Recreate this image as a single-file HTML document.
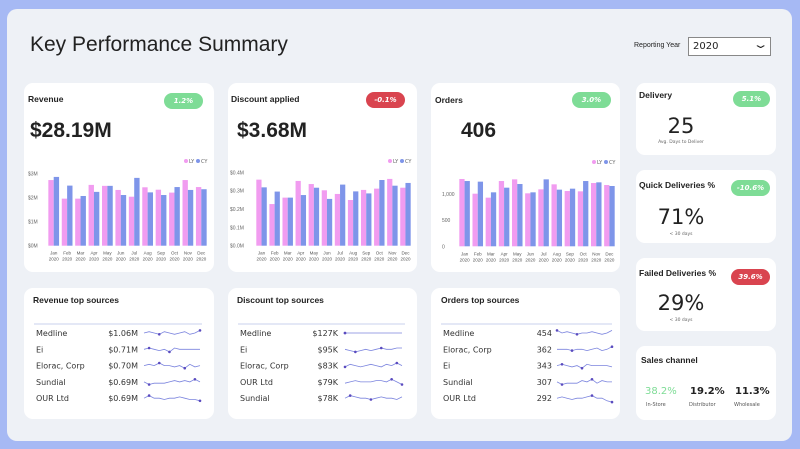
<!DOCTYPE html>
<html><head><meta charset="utf-8">
<style>
*{margin:0;padding:0;box-sizing:border-box}
body{width:800px;height:449px;background:#a6b9f4;font-family:"DejaVu Sans","Liberation Sans",sans-serif;position:relative;overflow:hidden;color:#222}
.panel{position:absolute;left:7px;top:9px;width:785px;height:432px;background:#eef1f6;border-radius:10px}
.card{position:absolute;background:#fff;border-radius:9px}
.t{position:absolute;font-size:8.5px;font-weight:bold;color:#222;white-space:nowrap;font-family:"Liberation Sans",sans-serif}
.badge{position:absolute;height:16px;border-radius:8px;color:#fff;font-size:7px;font-weight:bold;font-style:italic;text-align:center;line-height:16px}
.g{background:#7edc96}.r{background:#d9444f}
.big{position:absolute;font-weight:bold;font-size:21px;white-space:nowrap;font-family:"Liberation Sans",sans-serif}
.kpi{position:absolute;font-size:21px;text-align:center;width:140px}
.sub{position:absolute;font-size:4.5px;color:#666;text-align:center;width:140px}
svg{position:absolute;left:0;top:0}
</style></head><body>
<div class="panel"></div>
<div style="position:absolute;left:30px;top:33px;font-size:21px;font-family:'Liberation Sans',sans-serif;color:#222">Key Performance Summary</div>
<div style="position:absolute;left:634px;top:42px;font-size:7px;font-family:'Liberation Sans',sans-serif">Reporting Year</div>
<div style="position:absolute;left:688px;top:37px;width:83px;height:19px;border:1px solid #888;background:#fff;font-size:10px;line-height:17px;padding-left:4px">2020<span style="position:absolute;right:5px;top:-2px;font-size:11px;transform:scaleX(1.8)">&#8964;</span></div>

<div class="card" style="left:24px;top:83px;width:190px;height:189px"></div>
<div class="card" style="left:228px;top:83px;width:189px;height:189px"></div>
<div class="card" style="left:431px;top:83px;width:189px;height:189px"></div>
<div class="card" style="left:24px;top:288px;width:190px;height:131px"></div>
<div class="card" style="left:228px;top:288px;width:189px;height:131px"></div>
<div class="card" style="left:431px;top:288px;width:189px;height:131px"></div>
<div class="card" style="left:636px;top:83px;width:140px;height:72px"></div>
<div class="card" style="left:636px;top:170px;width:140px;height:73px"></div>
<div class="card" style="left:636px;top:258px;width:140px;height:73px"></div>
<div class="card" style="left:636px;top:346px;width:140px;height:74px"></div>

<div class="t" style="left:28px;top:94px">Revenue</div>
<div class="badge g" style="left:164px;top:93px;width:39px">1.2%</div>
<div class="big" style="left:30px;top:119px">$28.19M</div>
<div class="t" style="left:231px;top:94px">Discount applied</div>
<div class="badge r" style="left:366px;top:92px;width:39px">-0.1%</div>
<div class="big" style="left:237px;top:119px">$3.68M</div>
<div class="t" style="left:435px;top:95px">Orders</div>
<div class="badge g" style="left:572px;top:92px;width:39px">3.0%</div>
<div class="big" style="left:461px;top:119px">406</div>

<div class="t" style="left:33px;top:295px">Revenue top sources</div>
<div class="t" style="left:237px;top:295px">Discount top sources</div>
<div class="t" style="left:441px;top:295px">Orders top sources</div>

<div class="t" style="left:639px;top:90px">Delivery</div>
<div class="badge g" style="left:733px;top:91px;width:37px">5.1%</div>
<div class="kpi" style="left:611px;top:114px">25</div>
<div class="sub" style="left:611px;top:140px">Avg. Days to Deliver</div>
<div class="t" style="left:639px;top:180px">Quick Deliveries %</div>
<div class="badge g" style="left:731px;top:180px;width:39px">-10.6%</div>
<div class="kpi" style="left:611px;top:205px">71%</div>
<div class="sub" style="left:611px;top:232px">&lt; 30 days</div>
<div class="t" style="left:639px;top:268px">Failed Deliveries %</div>
<div class="badge r" style="left:731px;top:269px;width:39px">39.6%</div>
<div class="kpi" style="left:611px;top:291px">29%</div>
<div class="sub" style="left:611px;top:318px">&lt; 30 days</div>
<div class="t" style="left:641px;top:355px">Sales channel</div>
<div style="position:absolute;left:645px;top:386px;font-size:10px;color:#7edc96">38.2%</div>
<div style="position:absolute;left:690px;top:386px;font-size:10px;font-weight:bold">19.2%</div>
<div style="position:absolute;left:735px;top:386px;font-size:10px;font-weight:bold">11.3%</div>
<div style="position:absolute;left:646px;top:402px;font-size:5px;color:#555">In-Store</div>
<div style="position:absolute;left:689px;top:402px;font-size:5px;color:#555">Distributor</div>
<div style="position:absolute;left:734px;top:402px;font-size:5px;color:#555">Wholesale</div>

<svg id="s" width="800" height="449"></svg>
<script>
const months=["Jan","Feb","Mar","Apr","May","Jun","Jul","Aug","Sep","Oct","Nov","Dec"];
const revLY=[2.72,1.95,1.95,2.52,2.48,2.31,2.03,2.42,2.32,2.20,2.72,2.43];
const revCY=[2.85,2.49,2.06,2.23,2.48,2.10,2.81,2.21,2.10,2.43,2.31,2.34];
const revTicks=[0,1,2,3];
const revTickLabels=["$0M","$1M","$2M","$3M"];
const discLY=[0.360,0.227,0.262,0.353,0.336,0.302,0.282,0.249,0.304,0.311,0.364,0.316];
const discCY=[0.318,0.295,0.262,0.276,0.316,0.255,0.333,0.296,0.285,0.358,0.327,0.342];
const discTicks=[0,0.1,0.2,0.3,0.4];
const discTickLabels=["$0.0M","$0.1M","$0.2M","$0.3M","$0.4M"];
const ordLY=[1287,1006,930,1248,1280,1013,1089,1185,1057,1051,1210,1172];
const ordCY=[1248,1236,1032,1121,1191,1032,1280,1083,1102,1248,1223,1153];
const ordTicks=[0,500,1000];
const ordTickLabels=["0","500","1,000"];
const revNames=["Medline","Ei","Elorac, Corp","Sundial","OUR Ltd"];
const revVals=["$1.06M","$0.71M","$0.70M","$0.69M","$0.69M"];
const revSpark=[[5,6,5,4,6,5,4,5,6,4,5,7],[5,6,5,4,5,3,6,5,5,5,5,5],[5,6,5,7,5,5,4,5,3,6,4,5],[5,3,4,4,4,5,6,5,6,5,7,5],[5,7,5,5,4,5,5,6,5,4,4,3]];
const discNames=["Medline","Ei","Elorac, Corp","OUR Ltd","Sundial"];
const discVals=["$127K","$95K","$83K","$79K","$78K"];
const discSpark=[[5,5,5,5,5,5,5,5,5,5,5,5],[5,4,3,4,5,4,5,6,5,5,6,6],[4,6,5,4,5,6,5,4,6,5,7,5],[4,5,6,5,5,5,6,6,5,7,5,3],[5,7,6,5,5,4,5,6,5,5,4,6]];
const ordNames=["Medline","Elorac, Corp","Ei","Sundial","OUR Ltd"];
const ordVals=["454","362","343","307","292"];
const ordSpark=[[7,5,6,5,4,5,5,6,5,4,5,7],[5,5,5,4,5,5,4,5,6,4,5,7],[5,6,5,4,5,3,6,5,5,5,5,4],[5,3,4,4,4,6,5,7,4,6,5,5],[5,6,5,4,5,5,6,7,5,5,3,2]];

const NS="http://www.w3.org/2000/svg";
const svg=document.getElementById('s');
function el(tag,attrs,txt){const e=document.createElementNS(NS,tag);for(const k in attrs)e.setAttribute(k,attrs[k]);if(txt!==undefined)e.textContent=txt;svg.appendChild(e);return e;}

function bars(name,ly,cy,ticks,labels,x0,x1,yBase,yTick,tickVal,labX,legY){
  const sy=v=>yBase-(v/tickVal)*(yBase-yTick);
  const gw=(x1-x0)/12, bw=gw*0.4;
  ticks.forEach((t,i)=>{
    const lab=el('text',{x:labX,y:sy(t)+2,'font-size':5,fill:'#666','font-family':'Liberation Sans, sans-serif'},labels[i]);
    
    
  });
  months.forEach((m,i)=>{
    const gx=x0+i*gw+gw*0.1;
    const a=el('rect',{x:gx,y:sy(ly[i]),width:bw,height:yBase-sy(ly[i]),fill:'#f19cf0'});
    
    
    const b=el('rect',{x:gx+bw,y:sy(cy[i]),width:bw,height:yBase-sy(cy[i]),fill:'#7e95e9'});
    
    
    const cx=gx+bw;
    const t1=el('text',{x:cx,y:yBase+9,'font-size':4.5,fill:'#555','text-anchor':'middle','font-family':'Liberation Sans, sans-serif'},m);
    
    
    const t2=el('text',{x:cx,y:yBase+15,'font-size':4.5,fill:'#555','text-anchor':'middle','font-family':'Liberation Sans, sans-serif'},'2020');
    
    
  });
  const lx=x1-22;
  const c1=el('circle',{cx:lx,cy:legY,r:2,fill:'#f19cf0'});
  
  
  el('text',{x:lx+3,y:legY+2,'font-size':5,fill:'#666'},'LY');
  const c2=el('circle',{cx:lx+12,cy:legY,r:2,fill:'#7e95e9'});
  
  
  el('text',{x:lx+15,y:legY+2,'font-size':5,fill:'#666'},'CY');
}
bars('revenue',revLY,revCY,revTicks,revTickLabels,47,208,245.7,173.3,3,28,161);
bars('discount',discLY,discCY,discTicks,discTickLabels,255,412,245.7,172.3,0.4,230,161);
bars('orders',ordLY,ordCY,ordTicks,ordTickLabels,458,616,246.3,194,1000,442,162);

function table(name,names,vals,spark,x0,lineX1,nameX,valX,valAnchor,sx0,sx1){
  const l=el('line',{x1:x0,y1:324,x2:lineX1,y2:324,stroke:'#b9c3e8','stroke-width':0.8});
  
  
  names.forEach((n,i)=>{
    const y=336+i*16.3;
    const a=el('text',{x:nameX,y:y,'font-size':8,fill:'#333'},n);
    
    
    const b=el('text',{x:valX,y:y,'font-size':8,fill:'#333','text-anchor':valAnchor},vals[i]);
    
    
    const d=spark[i];
    const mn=Math.min(...d),mx=Math.max(...d);
    const px=j=>sx0+j*(sx1-sx0)/(d.length-1);
    const py=v=>y-3+(5-v)*1.3;
    const pts=d.map((v,j)=>px(j)+','+py(v)).join(' ');
    const p=el('polyline',{points:pts,fill:'none',stroke:'#7b84de','stroke-width':0.8});
    
    
    const im=d.indexOf(mn),iM=d.indexOf(mx);
    [im,iM].forEach(j=>{
      const c=el('circle',{cx:px(j),cy:py(d[j]),r:1.3,fill:'#5a4bbf'});
      
      
    });
  });
}
table('revenue-sources',revNames,revVals,revSpark,34,202,36,138,'end',144,200);
table('discount-sources',discNames,discVals,discSpark,238,405,240,338,'end',345,402);
table('orders-sources',ordNames,ordVals,ordSpark,441,612,443,552,'end',557,612);
</script>
</body></html>
